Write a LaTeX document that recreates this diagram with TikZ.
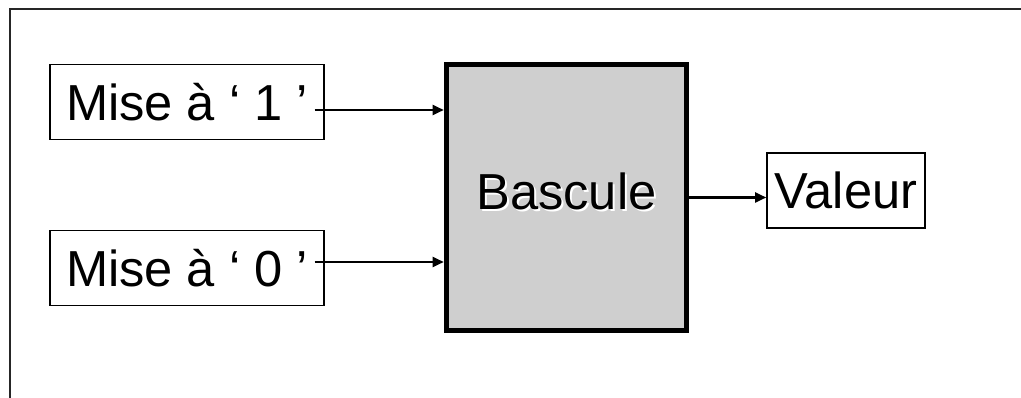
\documentclass[tikz,border=0pt]{standalone}
\usepackage{fontspec}
\setmainfont{Liberation Sans}
\usepackage{xcolor}
\usetikzlibrary{arrows.meta, positioning, calc}

\definecolor{grisbascule}{HTML}{CFCFCF}
\newcommand{\ombre}[1]{\rlap{\kern1.4pt\raisebox{-1.4pt}{\color{white}#1}}#1}

\begin{document}
\begin{tikzpicture}[
  x=0.025cm, y=-0.025cm,
  entree/.style={rectangle, draw, line width=0.8pt, minimum width=6.85cm, minimum height=1.875cm, inner sep=0pt, align=center, font=\fontsize{36}{42}\selectfont},
  bascule/.style={rectangle, draw, line width=3.6pt, fill=grisbascule, minimum width=6.0cm, minimum height=6.65cm, inner sep=0pt, text depth=0.3cm, font=\fontsize{36}{42}\selectfont},
  fleche/.style={-{Triangle[length=0.28cm,width=0.24cm]}, line width=2pt}
]
  \clip (0,0) rectangle (1021,398);
  \useasboundingbox (0,0) rectangle (1021,398);
  % cadre
  \draw[line width=2pt, black!85] (10,9) rectangle (1060,440);

  \node[bascule] (bascule) at (566.5,197.5) {\ombre{Bascule}};
  \node[entree] (mise1) at (187,102) {Mise à ‘ 1 ’};
  \node[entree] (mise0) at (187,268) {Mise à ‘ 0 ’};
  \node[entree, minimum width=3.95cm] (valeur) at (846,190.5) {Valeur};

  \draw[fleche] ($(mise1.east)+(-10,8)$) -- ($(bascule.west |- mise1.east)+(0,8)$);
  \draw[fleche] ($(mise0.east)+(-10,-6)$) -- ($(bascule.west |- mise0.east)+(0,-6)$);
  \draw[fleche] (bascule.east) -- (valeur.west |- bascule.east);
\end{tikzpicture}
\end{document}
